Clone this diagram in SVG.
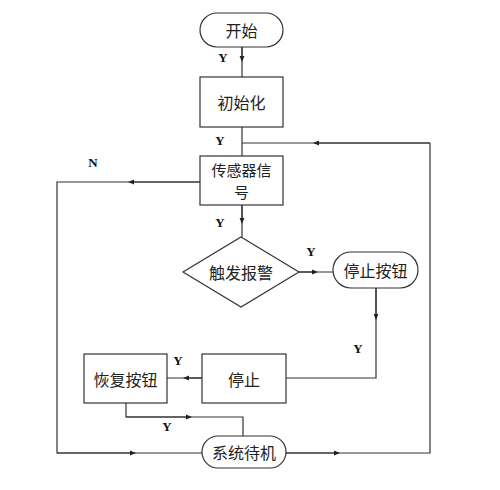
<svg xmlns="http://www.w3.org/2000/svg" width="500" height="490" viewBox="0 0 500 490">
<defs>
<marker id="ah" viewBox="0 0 10 10" refX="5" refY="5" markerWidth="6" markerHeight="6" orient="auto" markerUnits="userSpaceOnUse">
<path d="M0,1 L10,5 L0,9 z" fill="#222"/>
</marker>
</defs>
<style>
.box{fill:#fff;stroke:#333;stroke-width:1.2}
.t{font-family:"Noto Sans CJK SC","Noto Sans",sans-serif;font-size:16px;fill:#222;text-anchor:middle;dominant-baseline:central}
.t2{font-size:15px}
.lbl{font-family:"Liberation Serif",serif;font-size:13px;font-weight:bold;fill:#111;text-anchor:middle;dominant-baseline:central}
.ln{fill:none;stroke:#333;stroke-width:1.2}
</style>
<rect width="500" height="490" fill="#fff"/>
<g id="connectors">
<path class="ln" d="M242,47 V77"/>
<path class="ln" d="M242,47 V59" marker-end="url(#ah)"/>
<path class="ln" d="M242,127 V156"/>
<path class="ln" d="M430,143 H242"/>
<path class="ln" d="M430,143 H316" marker-end="url(#ah)"/>
<path class="ln" d="M200,182 H57 V453 H202"/>
<path class="ln" d="M200,182 H131" marker-end="url(#ah)"/>
<path class="ln" d="M57,453 H133" marker-end="url(#ah)"/>
<path class="ln" d="M242,205 V237"/>
<path class="ln" d="M242,205 V221" marker-end="url(#ah)"/>
<path class="ln" d="M299,272 H333"/>
<path class="ln" d="M299,272 H315" marker-end="url(#ah)"/>
<path class="ln" d="M376,288 V378 H286"/>
<path class="ln" d="M376,288 V317" marker-end="url(#ah)"/>
<path class="ln" d="M202,378 H167"/>
<path class="ln" d="M202,378 H186" marker-end="url(#ah)"/>
<path class="ln" d="M126,403 V417 H243 V436"/>
<path class="ln" d="M126,417 H189" marker-end="url(#ah)"/>
<path class="ln" d="M286,453 H430 V143"/>
<path class="ln" d="M286,453 H337" marker-end="url(#ah)"/>
</g>
<g id="labels">
<text class="lbl" x="223" y="57">Y</text>
<text class="lbl" x="220" y="140">Y</text>
<text class="lbl" x="93" y="162">N</text>
<text class="lbl" x="220" y="222">Y</text>
<text class="lbl" x="311" y="251">Y</text>
<text class="lbl" x="358" y="348">Y</text>
<text class="lbl" x="178" y="360">Y</text>
<text class="lbl" x="167" y="426">Y</text>
</g>
<g id="start">
<rect class="box" x="200" y="13" width="83" height="34" rx="17"/>
<text class="t" x="241.5" y="30">开始</text>
</g>
<g id="init">
<rect class="box" x="200" y="77" width="83" height="50"/>
<text class="t" x="241.5" y="102">初始化</text>
</g>
<g id="sensor">
<rect class="box" x="200" y="156" width="83" height="49"/>
<text class="t t2" x="241.5" y="169">传感器信</text>
<text class="t t2" x="241.5" y="191">号</text>
</g>
<g id="alarm">
<polygon class="box" points="241,237 299,272 241,307 183,272"/>
<text class="t" x="241" y="272">触发报警</text>
</g>
<g id="stopbtn">
<rect class="box" x="333" y="252" width="85" height="36" rx="18"/>
<text class="t" x="375.5" y="270">停止按钮</text>
</g>
<g id="stop">
<rect class="box" x="202" y="354" width="84" height="49"/>
<text class="t" x="244" y="378.5">停止</text>
</g>
<g id="resume">
<rect class="box" x="84" y="354" width="83" height="49"/>
<text class="t" x="125.5" y="378.5">恢复按钮</text>
</g>
<g id="standby">
<rect class="box" x="202" y="436" width="84" height="32" rx="16"/>
<text class="t" x="244" y="452">系统待机</text>
</g>
</svg>
